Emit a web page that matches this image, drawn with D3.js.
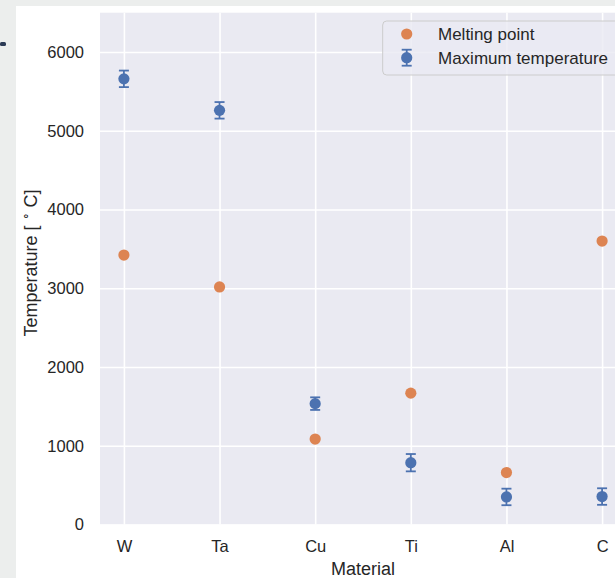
<!DOCTYPE html>
<html>
<head>
<meta charset="utf-8">
<script src="https://cdn.jsdelivr.net/npm/d3@7"></script>
<style>
  html, body { margin: 0; padding: 0; background: #eceeed; }
  svg { display: block; font-family: "Liberation Sans", Arial, sans-serif; }
</style>
</head>
<body>
<svg id="chart" width="615" height="578"></svg>
<script>
// Materials on the x axis
const materials = ["W", "Ta", "Cu", "Ti", "Al", "C"];
// Melting point of each material, °C
const meltingPoint = [3422, 3017, 1085, 1668, 660, 3600];
// Maximum operating temperature and its uncertainty, °C
const maxTemperature = [5660, 5260, 1535, 785, 350, 355];
const maxTemperatureErr = [105, 105, 80, 110, 105, 105];
// Y axis ticks
const yTicks = [0, 1000, 2000, 3000, 4000, 5000, 6000];

const seriesLabels = ["Melting point", "Maximum temperature"];
const colors = { melt: "#dd8452", max: "#4c72b0" };

const svg = d3.select("#chart");
const W = 615, H = 578;

// page backdrop and white card
svg.append("rect").attr("width", W).attr("height", H).attr("fill", "#eceeed");
svg.append("rect").attr("x", 16).attr("y", 6).attr("width", W - 16).attr("height", H - 6).attr("fill", "#ffffff");
svg.append("rect").attr("x", 0).attr("y", 42).attr("width", 6).attr("height", 4).attr("rx", 1.5).attr("fill", "#2b3a55");

const plot = { left: 100, right: 626, top: 12.7, bottom: 524.5 };

const x = d3.scalePoint().domain(materials).range([plot.left, plot.right]).padding(0.25);
const y = d3.scaleLinear().domain([0, 6500]).range([plot.bottom, plot.top]);

// axes background
svg.append("rect")
  .attr("x", plot.left).attr("y", plot.top)
  .attr("width", plot.right - plot.left).attr("height", plot.bottom - plot.top)
  .attr("fill", "#eaeaf2");

// grid lines
const gridY = svg.append("g").attr("transform", `translate(${plot.left},0)`)
  .call(d3.axisLeft(y).tickValues(yTicks).tickSize(-(plot.right - plot.left)).tickFormat(""));
const gridX = svg.append("g").attr("transform", `translate(0,${plot.top})`)
  .call(d3.axisBottom(x).tickSize(plot.bottom - plot.top).tickFormat(""));
[gridY, gridX].forEach(g => {
  g.select(".domain").remove();
  g.selectAll("line").attr("stroke", "#ffffff").attr("stroke-width", 1.6);
});

// tick labels
const yAxis = svg.append("g").attr("transform", `translate(${plot.left},0)`)
  .call(d3.axisLeft(y).tickValues(yTicks).tickSize(0).tickPadding(16).tickFormat(d3.format("d")));
const xAxis = svg.append("g").attr("transform", `translate(0,${plot.bottom})`)
  .call(d3.axisBottom(x).tickSize(0).tickPadding(16));
[yAxis, xAxis].forEach(g => {
  g.select(".domain").remove();
  g.selectAll("text").attr("fill", "#262626").style("font-size", "16.5px")
    .style("font-family", "'Liberation Sans', Arial, sans-serif");
});

// axis titles
svg.append("text")
  .attr("x", (plot.left + plot.right) / 2).attr("y", 575)
  .attr("text-anchor", "middle").attr("fill", "#262626").style("font-size", "18px")
  .text("Material");

const yl = svg.append("text")
  .attr("transform", "translate(37,263) rotate(-90)")
  .attr("text-anchor", "middle").attr("fill", "#262626").style("font-size", "18px");
yl.append("tspan").text("Temperature [ ");
yl.append("tspan").attr("dy", -7).style("font-size", "12px").text("∘");
yl.append("tspan").attr("dy", 7).text(" C]");

// error bars
const eb = svg.append("g").attr("stroke", colors.max).attr("stroke-width", 1.8);
materials.forEach((m, i) => {
  const cx = x(m);
  const lo = y(maxTemperature[i] - maxTemperatureErr[i]);
  const hi = y(maxTemperature[i] + maxTemperatureErr[i]);
  eb.append("line").attr("x1", cx).attr("x2", cx).attr("y1", lo).attr("y2", hi);
  eb.append("line").attr("x1", cx - 5).attr("x2", cx + 5).attr("y1", lo).attr("y2", lo);
  eb.append("line").attr("x1", cx - 5).attr("x2", cx + 5).attr("y1", hi).attr("y2", hi);
});

// points
svg.append("g").selectAll("circle").data(meltingPoint).join("circle")
  .attr("cx", (d, i) => x(materials[i])).attr("cy", d => y(d)).attr("r", 5.6)
  .attr("fill", colors.melt);
svg.append("g").selectAll("circle").data(maxTemperature).join("circle")
  .attr("cx", (d, i) => x(materials[i])).attr("cy", d => y(d)).attr("r", 5.6)
  .attr("fill", colors.max);

// legend
const lg = svg.append("g");
lg.append("rect").attr("x", 382.7).attr("y", 21).attr("width", 236).attr("height", 54).attr("rx", 4)
  .attr("fill", "#eaeaf2").attr("fill-opacity", 0.8).attr("stroke", "#cccccc").attr("stroke-width", 1);
const rows = [34, 57.7];
lg.append("circle").attr("cx", 406.7).attr("cy", rows[0]).attr("r", 5.6).attr("fill", colors.melt);
const lgEb = lg.append("g").attr("stroke", colors.max).attr("stroke-width", 1.8);
lgEb.append("line").attr("x1", 406.7).attr("x2", 406.7).attr("y1", rows[1] - 8).attr("y2", rows[1] + 8);
lgEb.append("line").attr("x1", 401.7).attr("x2", 411.7).attr("y1", rows[1] - 8).attr("y2", rows[1] - 8);
lgEb.append("line").attr("x1", 401.7).attr("x2", 411.7).attr("y1", rows[1] + 8).attr("y2", rows[1] + 8);
lg.append("circle").attr("cx", 406.7).attr("cy", rows[1]).attr("r", 5.6).attr("fill", colors.max);
seriesLabels.forEach((t, i) => {
  lg.append("text").attr("x", 438).attr("y", rows[i]).attr("dy", "0.36em")
    .attr("fill", "#262626").style("font-size", "17px").text(t);
});
</script>
</body>
</html>
